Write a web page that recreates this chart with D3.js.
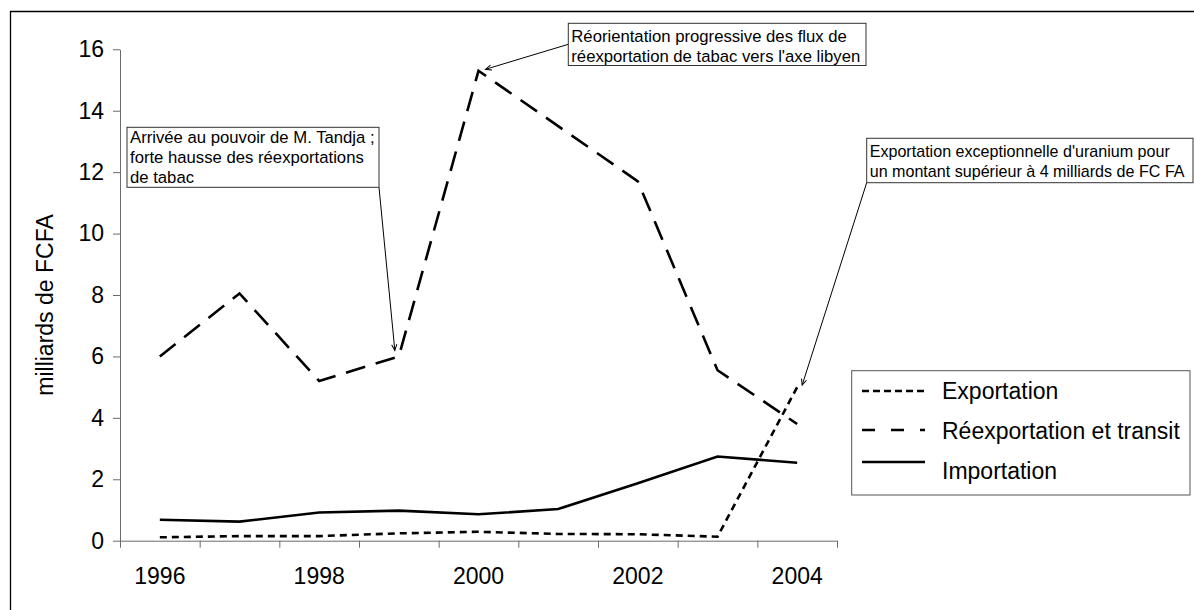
<!DOCTYPE html>
<html><head><meta charset="utf-8">
<script src="https://cdn.jsdelivr.net/npm/d3@7/dist/d3.min.js"></script>
<style>
body{margin:0;background:#fff}
svg{display:block}
text{font-family:Arial,"Liberation Sans",sans-serif;fill:#000}
</style>
</head><body>
<svg id="c" width="1194" height="610"></svg>
<script>
// ---- data ----
const years = [1996, 1997, 1998, 1999, 2000, 2001, 2002, 2003, 2004];
const xTickLabels = [1996, 1998, 2000, 2002, 2004];
const yTicks = [0, 2, 4, 6, 8, 10, 12, 14, 16];
const exportation   = [0.11, 0.15, 0.15, 0.24, 0.29, 0.22, 0.21, 0.13, 5.0];
const reexportation = [6.0, 8.05, 5.2, 6.0, 15.3, 13.5, 11.7, 5.55, 3.8];
const importation   = [0.68, 0.62, 0.92, 0.98, 0.86, 1.03, 1.87, 2.74, 2.54];
const seriesNames = ["Exportation", "Réexportation et transit", "Importation"];
const yTitle = "milliards de FCFA";
const note1 = ["Arrivée au pouvoir de M. Tandja ;", "forte hausse des réexportations", "de tabac"];
const note2 = ["Réorientation progressive des flux de", "réexportation de tabac vers l'axe libyen"];
const note3 = ["Exportation exceptionnelle d'uranium pour", "un montant supérieur à 4 milliards de FC FA"];

// ---- layout ----
const svg = d3.select("#c");
const X0 = 120, X1 = 837, Y0 = 540.7, Y1 = 49.3;
const x = d3.scaleBand().domain(years).range([X0, X1]).padding(0);
const cx = yr => x(yr) + x.bandwidth() / 2;
const xb = d3.scaleLinear().domain([0, years.length]).range([X0, X1]);
const y = d3.scaleLinear().domain([0, 16]).range([Y0, Y1]);
const axisColor = "#6a6a6a";

// outer frame
svg.append("path").attr("d", "M10.5,612V11.5H1196").attr("fill", "none")
  .attr("stroke", "#000").attr("stroke-width", 1.3);

// y axis
const ya = svg.append("g").attr("transform", `translate(${X0},0)`)
  .call(d3.axisLeft(y).tickValues(yTicks).tickSize(7).tickSizeOuter(0).tickPadding(9).tickFormat(d3.format("d")));
ya.selectAll("path,line").attr("stroke", axisColor);
ya.selectAll("text").style("font-size", "23px").attr("fill", "#000");

// x axis: boundary ticks
const xa = svg.append("g").attr("transform", `translate(0,${Y0})`)
  .call(d3.axisBottom(xb).tickValues(d3.range(0, years.length + 1)).tickSize(7).tickSizeOuter(0).tickFormat(""));
xa.selectAll("path,line").attr("stroke", axisColor);
// x labels
const xl = svg.append("g").attr("transform", `translate(0,${Y0})`)
  .call(d3.axisBottom(x).tickValues(xTickLabels).tickSize(0).tickPadding(27));
xl.select(".domain").remove();
xl.selectAll("text").style("font-size", "23px").attr("fill", "#000");

// y title
svg.append("text").attr("transform", "translate(53,305) rotate(-90)")
  .attr("text-anchor", "middle").style("font-size", "23px").text(yTitle);

// lines
const line = d3.line().x((d, i) => cx(years[i])).y(d => y(d));
const styles = [
  {data: exportation, dash: "7,5"},
  {data: reexportation, dash: "20,11"},
  {data: importation, dash: null}
];
styles.forEach(s => {
  svg.append("path").datum(s.data).attr("d", line).attr("fill", "none")
    .attr("stroke", "#000").attr("stroke-width", 2.6)
    .attr("stroke-dasharray", s.dash);
});

// arrow marker
svg.append("defs").append("marker").attr("id", "ah")
  .attr("viewBox", "-8 -4 10 8").attr("refX", 0).attr("refY", 0)
  .attr("markerWidth", 10).attr("markerHeight", 8).attr("markerUnits", "userSpaceOnUse")
  .attr("orient", "auto")
  .append("path").attr("d", "M-6,-2.6L0,0L-6,2.6").attr("fill", "none").attr("stroke", "#000").attr("stroke-width", 1);

// annotations
const notes = [
  {lines: note1, fs: 16.7, bx: 127, by: 127.3, bw: 252, bh: 60, base: 142.6, from: [379, 187.3], yr: 1999, val: reexportation[3], off: [-4, -6]},
  {lines: note2, fs: 16.7, bx: 568.3, by: 23.3, bw: 297.7, bh: 42.2, base: 41.8, from: [568.3, 44.3], yr: 2000, val: reexportation[4], off: [7, -1.5]},
  {lines: note3, fs: 16.1, bx: 866.7, by: 138.3, bw: 326.3, bh: 44.4, base: 156.5, from: [866.7, 182.7], yr: 2004, val: exportation[8], off: [5, -2]}
];
notes.forEach(n => {
  svg.append("line").attr("x1", n.from[0]).attr("y1", n.from[1])
    .attr("x2", cx(n.yr) + n.off[0]).attr("y2", y(n.val) + n.off[1])
    .attr("stroke", "#000").attr("stroke-width", 1).attr("marker-end", "url(#ah)");
  svg.append("rect").attr("x", n.bx).attr("y", n.by).attr("width", n.bw).attr("height", n.bh)
    .attr("fill", "#fff").attr("stroke", "#333").attr("stroke-width", 1);
  n.lines.forEach((t, i) => {
    svg.append("text").attr("x", n.bx + 3).attr("y", n.base + i * 20)
      .style("font-size", n.fs + "px").text(t);
  });
});

// legend
const lg = svg.append("g");
lg.append("rect").attr("x", 851.7).attr("y", 370.7).attr("width", 338.3).attr("height", 124.3)
  .attr("fill", "#fff").attr("stroke", "#555").attr("stroke-width", 1);
const legendText = [391, 431, 471];
const legendLine = [391, 430, 462];
const legendDash = ["7,4", "13,16", null];
seriesNames.forEach((name, i) => {
  lg.append("line").attr("x1", 862).attr("x2", 925).attr("y1", legendLine[i]).attr("y2", legendLine[i])
    .attr("stroke", "#000").attr("stroke-width", 2.4).attr("stroke-dasharray", legendDash[i]);
  lg.append("text").attr("x", 942).attr("y", legendText[i]).attr("dy", "0.35em")
    .style("font-size", "23px").text(name);
});
</script>
</body></html>
